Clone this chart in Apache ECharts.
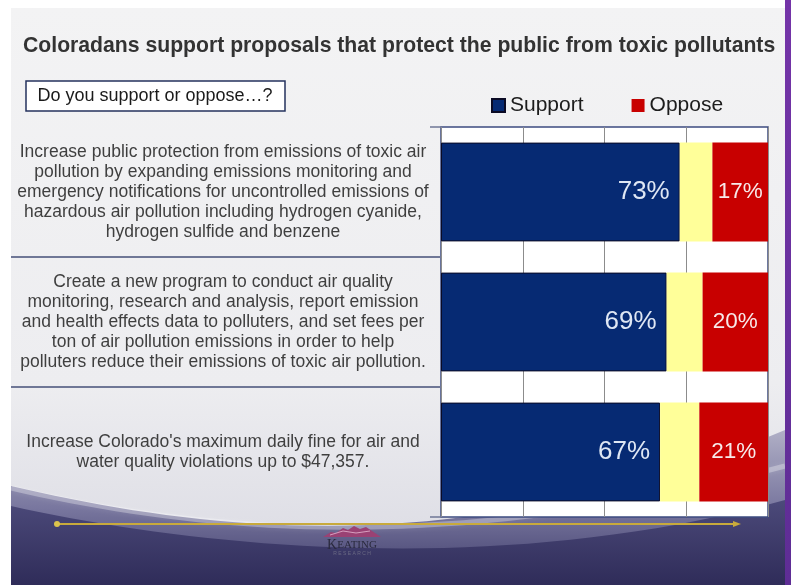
<!DOCTYPE html>
<html>
<head>
<meta charset="utf-8">
<script src="https://cdn.jsdelivr.net/npm/echarts@6/dist/echarts.min.js"></script>
<style>
  html, body { margin: 0; padding: 0; background: #ffffff; }
  #chart { width: 791px; height: 585px; }
</style>
</head>
<body>
<div id="chart"></div>
<script>
// Survey statements (one per bar) and their results, in percent
const categories = [
  'Increase public protection from emissions of toxic air\npollution by expanding emissions monitoring and\nemergency notifications for uncontrolled emissions of\nhazardous air pollution including hydrogen cyanide,\nhydrogen sulfide and benzene',
  'Create a new program to conduct air quality\nmonitoring, research and analysis, report emission\nand health effects data to polluters, and set fees per\nton of air pollution emissions in order to help\npolluters reduce their emissions of toxic air pollution.',
  "Increase Colorado's maximum daily fine for air and\nwater quality violations up to $47,357."
];
const supportValues = [73, 69, 67];
const undecidedValues = [10, 11, 12];
const opposeValues = [17, 20, 21];
const seriesNames = ['Support', 'Undecided', 'Oppose'];
const legendNames = ['Support', 'Oppose'];
const titleText = 'Coloradans support proposals that protect the public from toxic pollutants';
const questionText = 'Do you support or oppose…?';

const FONT = '"Liberation Sans", Arial, sans-serif';

// Sample a cubic bezier into a list of points
function bezierPoints(p0, p1, p2, p3, n) {
  const pts = [];
  for (let i = 0; i <= n; i++) {
    const t = i / n, u = 1 - t;
    pts.push([
      u * u * u * p0[0] + 3 * u * u * t * p1[0] + 3 * u * t * t * p2[0] + t * t * t * p3[0],
      u * u * u * p0[1] + 3 * u * u * t * p1[1] + 3 * u * t * t * p2[1] + t * t * t * p3[1]
    ]);
  }
  return pts;
}
// Closed region under a curve, down to the slide bottom
function regionUnder(p0, p1, p2, p3) {
  const pts = bezierPoints(p0, p1, p2, p3, 40);
  pts.push([p3[0], 585], [p0[0], 585]);
  return pts;
}
function vGrad(y0, y1, stops) {
  return { type: 'linear', x: 0, y: y0, x2: 0, y2: y1, global: true,
    colorStops: stops.map(s => ({ offset: s[0], color: s[1] })) };
}

// Slide backdrop: light body, purple swoosh at the bottom, purple edge strip
const backdrop = [
  { id: 'bg', type: 'rect', z: -10, shape: { x: 11, y: 8, width: 774, height: 577 },
    style: { fill: vGrad(8, 585, [[0, '#f3f3f4'], [0.65, '#ededf0'], [1, '#d9d9e2']]), lineWidth: 0 } },
  { id: 'swooshMid', type: 'polygon', z: -9, shape: { points: regionUnder([11, 486], [200, 530], [460, 566], [785, 430]) },
    style: { fill: vGrad(430, 585, [[0, '#b0afc6'], [0.5, '#79779f'], [1, '#3d3b69']]), lineWidth: 0 } },
  { id: 'swooshLight', type: 'polyline', z: -8, shape: { points: bezierPoints([11, 488], [200, 532], [450, 556], [785, 466], 40) },
    style: { stroke: 'rgba(255,255,255,0.3)', lineWidth: 5, shadowBlur: 6, shadowColor: 'rgba(255,255,255,0.4)' } },
  { id: 'swooshDark', type: 'polygon', z: -7, shape: { points: regionUnder([11, 506], [200, 548], [500, 578], [785, 500]) },
    style: { fill: vGrad(500, 585, [[0, '#4c4a7a'], [1, '#2f2c59']]), lineWidth: 0 } },
  { id: 'edge', type: 'rect', z: -6, shape: { x: 785, y: 0, width: 6, height: 585 },
    style: { fill: vGrad(0, 585, [[0, '#7434a8'], [1, '#5e2d95']]), lineWidth: 0 } }
];

const decorations = [
  { id: 'title', type: 'text', z: 10, x: 23, y: 46,
    style: { text: titleText, font: 'bold 21.2px ' + FONT, fill: '#333333', textVerticalAlign: 'middle' } },
  { id: 'qbox', type: 'rect', z: 10, shape: { x: 26, y: 81, width: 259, height: 30 },
    style: { fill: '#ffffff', stroke: '#25325e', lineWidth: 1.5 } },
  { id: 'qtext', type: 'text', z: 11, x: 155, y: 96,
    style: { text: questionText, font: '18px ' + FONT, fill: '#1a1a1a', textAlign: 'center', textVerticalAlign: 'middle' } },
  // Gold rule with dot and arrow head
  { id: 'rule', type: 'line', z: 10, shape: { x1: 57, y1: 524, x2: 736, y2: 524 },
    style: { stroke: '#c8aa3c', lineWidth: 2 } },
  { id: 'ruleDot', type: 'circle', z: 10, shape: { cx: 57, cy: 524, r: 3 }, style: { fill: '#dcc44c' } },
  { id: 'ruleHead', type: 'polygon', z: 10, shape: { points: [[733, 521], [741, 524], [733, 527]] }, style: { fill: '#c8aa3c' } },
  // Keating logo
  { id: 'logoPeaks', type: 'polygon', z: 10,
    shape: { points: [[323, 537], [331, 532], [336, 533], [343, 528], [348, 530], [354, 526], [360, 529], [366, 527], [372, 531], [381, 537]] },
    style: { fill: '#9a4274' } },
  { id: 'logoStreak', type: 'polyline', z: 11, shape: { points: [[330, 535], [343, 531], [356, 533], [370, 531]] },
    style: { stroke: 'rgba(255,220,240,0.6)', lineWidth: 1 } },
  { id: 'logoName', type: 'text', z: 10, x: 352, y: 545,
    style: { text: '{a|K}{b|EATING}', textAlign: 'center', textVerticalAlign: 'middle',
      rich: { a: { font: '14px "Liberation Serif", serif', fill: '#2a2a3e' },
              b: { font: '11px "Liberation Serif", serif', fill: '#2a2a3e' } } } },
  { id: 'logoSub', type: 'text', z: 10, x: 352, y: 554,
    style: { text: 'R E S E A R C H', font: '5px ' + FONT, fill: '#6a6a84', textAlign: 'center', textVerticalAlign: 'middle' } }
];

const chart = echarts.init(document.getElementById('chart'), null, { renderer: 'canvas' });

const option = {
  backgroundColor: '#ffffff',
  animation: false,
  legend: {
    data: legendNames,
    left: 491, top: 95, padding: 0,
    icon: 'rect', itemWidth: 13, itemHeight: 13, itemGap: 48,
    textStyle: { fontFamily: FONT, fontSize: 21, color: '#1c1c1c' }
  },
  grid: {
    left: 441, top: 127, right: 23, bottom: 68,
    show: true, backgroundColor: '#ffffff', borderColor: '#3d4b80', borderWidth: 1.5
  },
  xAxis: {
    type: 'value', min: 0, max: 100, interval: 25,
    axisLine: { show: false }, axisTick: { show: false }, axisLabel: { show: false },
    splitLine: { lineStyle: { color: '#8c8c8c', width: 1 } }
  },
  yAxis: {
    type: 'category', inverse: true, data: categories,
    axisLine: { show: false },
    axisTick: { show: true, length: 11, lineStyle: { color: '#6f7796', width: 1.5 } },
    axisLabel: {
      interval: 0, margin: 218, align: 'center',
      fontFamily: FONT, fontSize: 17.5, lineHeight: 20, color: '#3f3f3f'
    }
  },
  series: [
    { name: seriesNames[0], type: 'bar', stack: 'all', data: supportValues, barWidth: '76%',
      itemStyle: { color: '#062a73', borderColor: '#0b0b25', borderWidth: 1 },
      label: { show: true, position: 'insideRight', distance: 10, formatter: '{c}%',
        fontFamily: FONT, fontSize: 26, color: '#dfe7f4' } },
    { name: seriesNames[1], type: 'bar', stack: 'all', data: undecidedValues,
      itemStyle: { color: '#ffff99' } },
    { name: seriesNames[2], type: 'bar', stack: 'all', data: opposeValues,
      itemStyle: { color: '#c80000' },
      label: { show: true, position: 'inside', formatter: '{c}%',
        fontFamily: FONT, fontSize: 22.5, color: '#f7e9e9' } }
  ]
};

chart.setOption(option);

// Separator rules between statements, placed at the category band boundaries
const centers = categories.map(c => chart.convertToPixel({ yAxisIndex: 0 }, c));
const separators = [];
for (let i = 1; i < centers.length; i++) {
  const y = Math.round((centers[i - 1] + centers[i]) / 2);
  separators.push({ id: 'sep' + i, type: 'line', z: 4, shape: { x1: 11, y1: y, x2: 441, y2: y },
    style: { stroke: '#6f7796', lineWidth: 2 } });
}
chart.setOption({ graphic: { elements: backdrop.concat(separators, decorations) } });
</script>
</body>
</html>
